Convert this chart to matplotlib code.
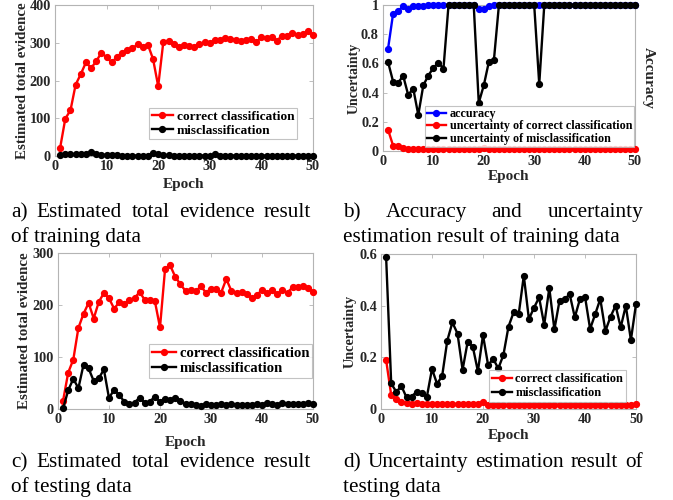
import matplotlib
matplotlib.use('Agg')
import matplotlib.pyplot as plt
import numpy as np

# ---------------- data ----------------
epochs = np.arange(1, 51)

# a) training: estimated total evidence
a_correct = [22, 99, 121, 189, 217, 248, 233, 251, 274, 261,
             248, 262, 274, 281, 285, 296, 289, 295, 257, 185,
             303, 304, 296, 288, 295, 291, 290, 296, 301, 300,
             306, 306, 313, 311, 308, 304, 307, 309, 302, 314,
             313, 316, 305, 319, 319, 327, 321, 323, 330, 321]
a_mis = [2, 4, 4, 4, 5, 5, 10, 4, 3, 3,
         3, 3, 1, 1, 1, 1, 1, 1, 8, 4,
         2, 2, 1, 1, 1, 1, 1, 1, 1, 1,
         4, 1, 1, 1, 1, 1, 1, 1, 1, 1,
         1, 1, 1, 1, 1, 1, 1, 1, 1, 1]

# b) training: accuracy and uncertainty
b_acc = [0.70, 0.94, 0.96, 0.99, 0.97, 0.99, 0.99, 0.99, 1.0, 1.0,
         1.0, 1.0, 1.0, 1.0, 1.0, 1.0, 1.0, 1.0, 0.97, 0.97,
         0.995, 1.0, 1.0, 1.0, 1.0, 1.0, 1.0, 1.0, 1.0, 1.0,
         1.0, 1.0, 1.0, 1.0, 1.0, 1.0, 1.0, 1.0, 1.0, 1.0,
         1.0, 1.0, 1.0, 1.0, 1.0, 1.0, 1.0, 1.0, 1.0, 1.0]
b_unc_correct = [0.146, 0.037, 0.032, 0.020, 0.016, 0.015, 0.015, 0.015, 0.015, 0.015,
                 0.014, 0.014, 0.014, 0.014, 0.014, 0.014, 0.014, 0.014, 0.016, 0.022,
                 0.014, 0.013, 0.013, 0.013, 0.013, 0.013, 0.013, 0.013, 0.013, 0.013,
                 0.013, 0.013, 0.013, 0.013, 0.013, 0.013, 0.013, 0.013, 0.013, 0.013,
                 0.013, 0.013, 0.013, 0.013, 0.013, 0.013, 0.013, 0.013, 0.013, 0.013]
b_unc_mis = [0.61, 0.476, 0.467, 0.515, 0.384, 0.428, 0.247, 0.45, 0.517, 0.57,
             0.604, 0.565, 1.0, 1.0, 1.0, 1.0, 1.0, 1.0, 0.33, 0.45,
             0.61, 0.62, 1.0, 1.0, 1.0, 1.0, 1.0, 1.0, 1.0, 1.0,
             0.458, 1.0, 1.0, 1.0, 1.0, 1.0, 1.0, 1.0, 1.0, 1.0,
             1.0, 1.0, 1.0, 1.0, 1.0, 1.0, 1.0, 1.0, 1.0, 1.0]

# c) testing: estimated total evidence
c_correct = [16, 70, 95, 156, 183, 204, 174, 206, 223, 213,
             193, 205, 202, 210, 213, 225, 210, 210, 207, 157,
             270, 276, 254, 240, 227, 228, 226, 236, 224, 231,
             231, 224, 250, 227, 224, 225, 222, 213, 219, 229,
             223, 228, 221, 228, 224, 234, 234, 237, 232, 225]
c_mis = [1, 36, 58, 40, 85, 78, 54, 59, 76, 21,
         37, 27, 14, 10, 12, 22, 12, 14, 24, 14,
         20, 17, 22, 16, 10, 9, 8, 6, 9, 8,
         8, 10, 7, 10, 8, 7, 8, 7, 9, 8,
         11, 9, 8, 11, 9, 9, 10, 9, 12, 9]

# d) testing: uncertainty
d_correct = [0.190, 0.054, 0.040, 0.026, 0.022, 0.021, 0.023, 0.020, 0.019, 0.019,
             0.019, 0.019, 0.019, 0.019, 0.019, 0.019, 0.019, 0.019, 0.020, 0.026,
             0.015, 0.016, 0.017, 0.017, 0.017, 0.017, 0.017, 0.017, 0.017, 0.017,
             0.017, 0.017, 0.017, 0.017, 0.017, 0.017, 0.017, 0.017, 0.017, 0.017,
             0.017, 0.017, 0.017, 0.017, 0.017, 0.017, 0.017, 0.017, 0.017, 0.018]
d_mis = [0.59, 0.099, 0.066, 0.089, 0.045, 0.048, 0.067, 0.061, 0.048, 0.155,
         0.097, 0.129, 0.265, 0.335, 0.292, 0.152, 0.261, 0.241, 0.146, 0.286,
         0.170, 0.194, 0.157, 0.209, 0.319, 0.374, 0.367, 0.516, 0.348, 0.392,
         0.432, 0.326, 0.468, 0.308, 0.419, 0.425, 0.444, 0.355, 0.425, 0.435,
         0.310, 0.367, 0.426, 0.302, 0.357, 0.400, 0.316, 0.400, 0.267, 0.406]

xticks = [0, 10, 20, 30, 40, 50]
a_yticks = [0, 100, 200, 300, 400]
b_yticks = [0, 0.2, 0.4, 0.6, 0.8, 1.0]
b_yticklabels = ['0', '0.2', '0.4', '0.6', '0.8', '1']
c_yticks = [0, 100, 200, 300]
d_yticks = [0, 0.2, 0.4, 0.6]
d_yticklabels = ['0', '0.2', '0.4', '0.6']

captions = [
    ("a) Estimated total evidence result", "of training data"),
    ("b) Accuracy and uncertainty", "estimation result of training data"),
    ("c) Estimated total evidence result", "of testing data"),
    ("d) Uncertainty estimation result of", "testing data"),
]

# ---------------- figure ----------------
plt.rcParams['font.family'] = ['Liberation Serif', 'DejaVu Serif']
W, H = 673, 500
fig = plt.figure(figsize=(W / 100, H / 100), dpi=100)

TXT = '#262626'
SPN = '#b4b4b4'


def px_axes(l, t, r, b):
    return fig.add_axes([l / W, 1 - b / H, (r - l) / W, (b - t) / H])


def style(ax, ylim, yticks, ylabel, yticklabels=None, ylabel_size=10.8, xpad=3, ypad=2):
    ax.set_xlim(0, 50)
    ax.set_ylim(*ylim)
    ax.set_xticks(xticks)
    ax.set_yticks(yticks)
    if yticklabels is not None:
        ax.set_yticklabels(yticklabels)
    ax.tick_params(direction='in', top=True, right=True, length=3, width=0.6,
                   color=SPN, labelcolor=TXT, labelsize=10.3, pad=3)
    for lab in ax.get_xticklabels() + ax.get_yticklabels():
        lab.set_fontweight('bold')
    for s in ax.spines.values():
        s.set_color(SPN)
        s.set_linewidth(0.8)
    ax.set_xlabel('Epoch', fontsize=11, fontweight='bold', color=TXT, labelpad=xpad)
    ax.set_ylabel(ylabel, fontsize=ylabel_size, fontweight='bold', color=TXT, labelpad=ypad)


def line(ax, y, color, z):
    ax.plot(epochs, y, '-o', color=color, lw=1.7, ms=4.2, clip_on=False, zorder=z)


def legend(ax, x0, y0, fs, spacing=0.15, bpad=0.25):
    leg = ax.legend(loc='upper left', bbox_to_anchor=(x0 / W, 1 - y0 / H),
                    bbox_transform=fig.transFigure, frameon=True,
                    fancybox=False, edgecolor=SPN, borderaxespad=0,
                    handlelength=1.6, handletextpad=0.3, labelspacing=spacing,
                    borderpad=bpad, prop={'weight': 'bold', 'size': fs})
    leg.get_frame().set_linewidth(0.8)
    leg.set_zorder(20)
    return leg


# a)
axa = px_axes(55, 5, 313, 156)
line(axa, a_correct, 'red', 3)
line(axa, a_mis, 'black', 4)
axa.lines[0].set_label('correct classification')
axa.lines[1].set_label('misclassification')
style(axa, (0, 400), a_yticks, 'Estimated total evidence', xpad=3.5, ypad=0)
legend(axa, 149, 108, 9.6, spacing=0.1, bpad=0.2)

# b)
axb = px_axes(383, 5, 635, 151)
line(axb, b_acc, 'blue', 3)
line(axb, b_unc_correct, 'red', 4)
line(axb, b_unc_mis, 'black', 5)
axb.lines[0].set_label('accuracy')
axb.lines[1].set_label('uncertainty of correct classification')
axb.lines[2].set_label('uncertainty of misclassification')
style(axb, (0, 1), b_yticks, 'Uncertainty', b_yticklabels, ylabel_size=10, xpad=1.5, ypad=0)
axb2 = axb.twinx()
axb2.set_ylim(0, 1)
axb2.set_yticks([])
for s in axb2.spines.values():
    s.set_visible(False)
axb2.set_ylabel('Accuracy', rotation=270, fontsize=11, fontweight='bold',
                color=TXT, labelpad=14)
axb.set_zorder(axb2.get_zorder() + 1)
axb.patch.set_visible(False)
legend(axb, 425, 106, 8.7, spacing=0.05, bpad=0.15)

# c)
axc = px_axes(58, 253, 313, 409)
line(axc, c_correct, 'red', 3)
line(axc, c_mis, 'black', 4)
axc.lines[0].set_label('correct classification')
axc.lines[1].set_label('misclassification')
style(axc, (0, 300), c_yticks, 'Estimated total evidence', xpad=7, ypad=1)
legend(axc, 149, 344, 10.6, spacing=0.1, bpad=0.2)

# d)
axd = px_axes(381, 254, 636, 409)
line(axd, d_correct, 'red', 3)
line(axd, d_mis, 'black', 4)
axd.lines[0].set_label('correct classification')
axd.lines[1].set_label('misclassification')
style(axd, (0, 0.6), d_yticks, 'Uncertainty', d_yticklabels, ylabel_size=10.3, xpad=2, ypad=2)
legend(axd, 489, 370, 8.8, spacing=0.15, bpad=0.25)

# ---------------- captions (justified first line) ----------------
renderer = fig.canvas.get_renderer()
CAP_FS = 15.3


def justified(text, x0, x1, yb):
    words = text.split()
    objs = [fig.text(0, 1 - yb / H, w, fontsize=CAP_FS, color='black',
                     ha='left', va='baseline') for w in words]
    widths = [o.get_window_extent(renderer).width for o in objs]
    gap = (x1 - x0 - sum(widths)) / (len(words) - 1)
    x = x0
    for o, wdt in zip(objs, widths):
        o.set_x(x / W)
        x += wdt + gap


def plain(text, x0, yb):
    fig.text(x0 / W, 1 - yb / H, text, fontsize=CAP_FS, color='black',
             ha='left', va='baseline')


spots = [(11, 311, 217, 242), (343, 643, 217, 242),
         (11, 311, 467, 492), (343, 643, 467, 492)]
for (l1, l2), (x0, x1, y1, y2) in zip(captions, spots):
    justified(l1, x0, x1, y1)
    plain(l2, x0, y2)

fig.savefig('out.png', dpi=100, facecolor='white')
